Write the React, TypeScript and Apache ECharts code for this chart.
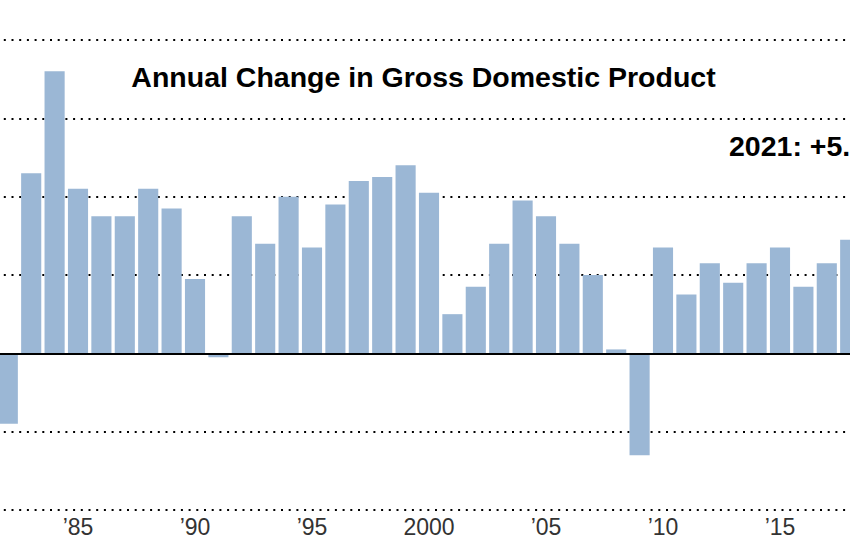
import React, { useEffect, useRef } from "react";
import * as echarts from "echarts";

const years: string[] = [
  "1982", "1983", "1984", "1985", "1986", "1987", "1988", "1989", "1990", "1991",
  "1992", "1993", "1994", "1995", "1996", "1997", "1998", "1999", "2000", "2001",
  "2002", "2003", "2004", "2005", "2006", "2007", "2008", "2009", "2010", "2011",
  "2012", "2013", "2014", "2015", "2016", "2017", "2018",
];

const gdpChange: number[] = [
  -1.8, 4.6, 7.2, 4.2, 3.5, 3.5, 4.2, 3.7, 1.9, -0.1,
  3.5, 2.8, 4.0, 2.7, 3.8, 4.4, 4.5, 4.8, 4.1, 1.0,
  1.7, 2.8, 3.9, 3.5, 2.8, 2.0, 0.1, -2.6, 2.7, 1.5,
  2.3, 1.8, 2.3, 2.7, 1.7, 2.3, 2.9,
];

const yTicks = { min: -4, max: 8, interval: 2 };

const titleText = "Annual Change in Gross Domestic Product";
const noteText = "2021: +5.7%";

export default function App() {
  const ref = useRef<HTMLDivElement>(null);

  useEffect(() => {
    if (!ref.current) return;
    const chart = echarts.init(ref.current, null, { renderer: "svg" });
    const titleFont = "'Liberation Sans', Arial, sans-serif";
    chart.setOption({
      animation: false,
      backgroundColor: "#ffffff",
      grid: {
        left: -3.9,
        right: -11.9,
        top: 40,
        bottom: 39,
        containLabel: false,
        outerBoundsMode: "none",
      },
      xAxis: {
        type: "category",
        data: years,
        axisLine: { show: false, onZero: false },
        axisTick: { show: false },
        axisLabel: {
          interval: (_i: number, v: string) => Number(v) % 5 === 0,
          formatter: (v: string) => (v === "2000" ? "2000" : "\u2019" + v.slice(2)),
          fontSize: 23,
          color: "#333333",
          fontFamily: "'Liberation Sans', sans-serif",
          margin: 5,
        },
        splitLine: { show: false },
      },
      yAxis: {
        type: "value",
        min: yTicks.min,
        max: yTicks.max,
        interval: yTicks.interval,
        axisLabel: { show: false },
        axisLine: { show: false },
        axisTick: { show: false },
        splitLine: {
          show: true,
          lineStyle: { color: "#000000", width: 2, type: [2, 5.7] },
        },
      },
      series: [
        {
          type: "bar",
          data: gdpChange,
          barCategoryGap: "14%",
          itemStyle: { color: "#9bb7d5" },
          markLine: {
            silent: true,
            symbol: "none",
            label: { show: false },
            lineStyle: { color: "#000000", width: 2, type: "solid" },
            data: [{ yAxis: 0 }],
          },
        },
      ],
      graphic: [
        {
          type: "text",
          x: 423.5,
          y: 62,
          style: {
            text: titleText,
            align: "center",
            fontSize: 28.5,
            fontWeight: "bold",
            fontFamily: titleFont,
            fill: "#000000",
          },
        },
        {
          type: "text",
          x: 729,
          y: 131,
          style: {
            text: noteText,
            fontSize: 28.5,
            fontWeight: "bold",
            fontFamily: titleFont,
            fill: "#000000",
          },
        },
      ],
    });
    return () => chart.dispose();
  }, []);

  return (
    <div
      ref={ref}
      style={{ position: "fixed", left: 0, top: 0, width: 850, height: 549 }}
    />
  );
}
